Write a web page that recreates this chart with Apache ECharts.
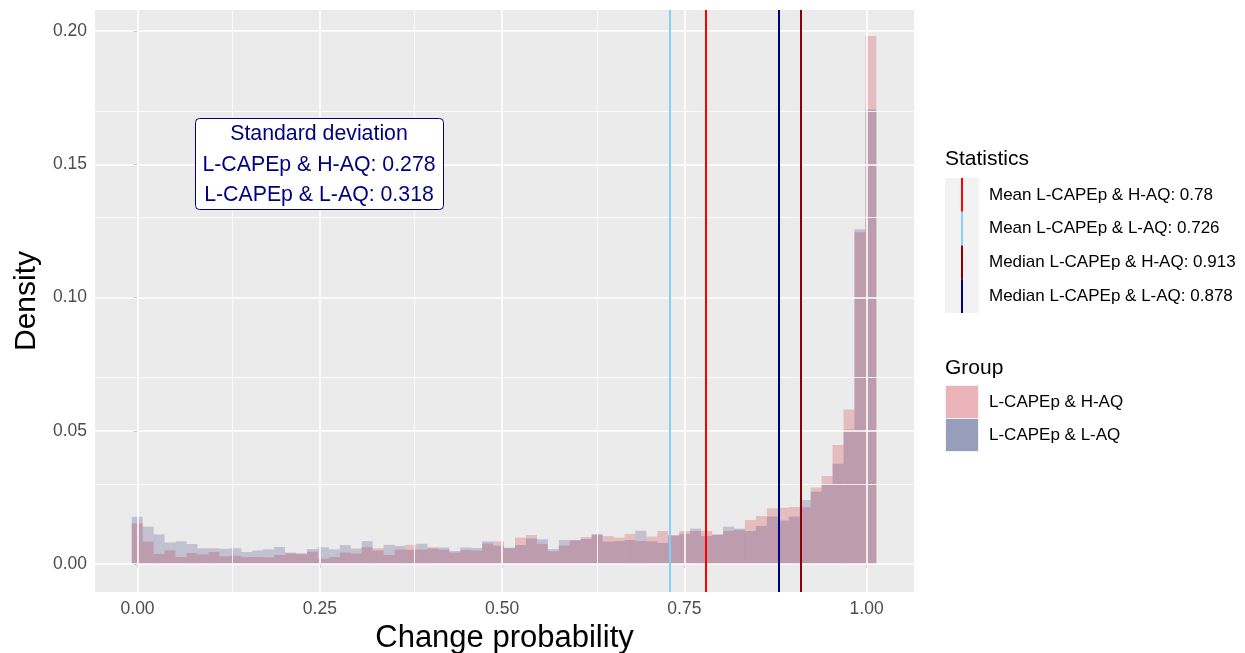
<!DOCTYPE html>
<html>
<head>
<meta charset="utf-8">
<script src="https://cdn.jsdelivr.net/npm/echarts@6/dist/echarts.min.js"></script>
<style>
  html, body { margin: 0; padding: 0; background: #ffffff; }
  #chart { width: 1245px; height: 653px; }
</style>
</head>
<body>
<div id="chart"></div>
<script>
// Histogram bins: left edge of the first bin and the common bin width
const binOrigin = -0.008;
const binWidth = 0.01502;

// Density per bin, L-CAPEp & H-AQ
const densityHighAQ = [
  0.0153, 0.0084, 0.0038, 0.0051, 0.0026, 0.0041, 0.0036, 0.0045, 0.0029, 0.0031,
  0.0026, 0.0026, 0.0025, 0.0034, 0.0039, 0.0041, 0.0046, 0.0020, 0.0026, 0.0043,
  0.0039, 0.0063, 0.0059, 0.0034, 0.0054, 0.0072, 0.0054, 0.0063, 0.0054, 0.0043,
  0.0052, 0.0050, 0.0077, 0.0085, 0.0059, 0.0099, 0.0109, 0.0076, 0.0048, 0.0069,
  0.0090, 0.0101, 0.0112, 0.0105, 0.0099, 0.0113, 0.0086, 0.0103, 0.0124, 0.0108,
  0.0124, 0.0124, 0.0124, 0.0111, 0.0124, 0.0128, 0.0165, 0.0180, 0.0209, 0.0211,
  0.0214, 0.0213, 0.0287, 0.0330, 0.0447, 0.0580, 0.1245, 0.1981
];

// Density per bin, L-CAPEp & L-AQ
const densityLowAQ = [
  0.0177, 0.0140, 0.0111, 0.0081, 0.0085, 0.0075, 0.0059, 0.0059, 0.0057, 0.0059,
  0.0045, 0.0051, 0.0055, 0.0064, 0.0043, 0.0037, 0.0056, 0.0063, 0.0055, 0.0071,
  0.0058, 0.0086, 0.0051, 0.0072, 0.0068, 0.0053, 0.0076, 0.0058, 0.0062, 0.0049,
  0.0062, 0.0060, 0.0085, 0.0069, 0.0061, 0.0071, 0.0096, 0.0093, 0.0056, 0.0090,
  0.0089, 0.0094, 0.0110, 0.0084, 0.0086, 0.0090, 0.0125, 0.0085, 0.0079, 0.0107,
  0.0113, 0.0133, 0.0105, 0.0110, 0.0140, 0.0133, 0.0124, 0.0143, 0.0178, 0.0163,
  0.0178, 0.0240, 0.0271, 0.0300, 0.0376, 0.0505, 0.1256, 0.1706
];

// Axis ticks and labels
const xTicks = [0, 0.25, 0.5, 0.75, 1];
const xTickLabels = ['0.00', '0.25', '0.50', '0.75', '1.00'];
const xMinorTicks = [0.125, 0.375, 0.625, 0.875];
const yTicks = [0, 0.05, 0.1, 0.15, 0.2];
const yTickLabels = ['0.00', '0.05', '0.10', '0.15', '0.20'];
const yMinorTicks = [0.025, 0.075, 0.125, 0.175];

// Summary statistics drawn as vertical reference lines
const statNames = ['Mean L-CAPEp & H-AQ', 'Mean L-CAPEp & L-AQ', 'Median L-CAPEp & H-AQ', 'Median L-CAPEp & L-AQ'];
const statValues = [0.78, 0.726, 0.913, 0.878];
const statColors = ['#FF0000', '#87CEFA', '#8B0000', '#000080'];

// Groups and their standard deviations
const groupNames = ['L-CAPEp & H-AQ', 'L-CAPEp & L-AQ'];
const groupFills = ['rgba(215,40,50,0.24)', 'rgba(25,25,112,0.2)'];
const groupKeyFills = ['#EAB4B8', '#979DBB'];
const sdValues = [0.278, 0.318];

const FONT = '"Liberation Sans", Arial, Helvetica, sans-serif';

const chart = echarts.init(document.getElementById('chart'), null, { renderer: 'canvas' });

function histogramSeries(name, values, fill, z) {
  return {
    type: 'custom',
    name: name,
    z: z,
    silent: true,
    data: values.map((v, i) => [binOrigin + i * binWidth, binOrigin + (i + 1) * binWidth, v]),
    encode: { x: [0, 1], y: 2 },
    renderItem: function (params, api) {
      const top = api.coord([api.value(0), api.value(2)]);
      const base = api.coord([api.value(1), 0]);
      return {
        type: 'rect',
        shape: { x: top[0], y: top[1], width: base[0] - top[0], height: base[1] - top[1] },
        style: { fill: fill }
      };
    }
  };
}

function gridLines(axisKey, values, width) {
  return values.map(v => ({ [axisKey]: v, lineStyle: { color: '#FFFFFF', width: width, type: 'solid' } }));
}

const legendX = 945;
const statKeyTop = 178;
const statKeyH = 33.75;
const groupKeyTop = 385.5;
const groupKeyH = 33;

const graphics = [];

// Standard deviation box
graphics.push({
  type: 'group', left: 195, top: 118, z: 100,
  children: [
    { type: 'rect', z: 100, shape: { x: 0.5, y: 0.5, width: 248, height: 91, r: 4 },
      style: { fill: '#FFFFFF', stroke: '#000080', lineWidth: 1 } },
    { type: 'text', z: 101, x: 124, y: 16, style: { text: 'Standard deviation', fill: '#000080', font: '21.3px ' + FONT, align: 'center', verticalAlign: 'middle' } },
    { type: 'text', z: 101, x: 124, y: 47, style: { text: groupNames[0] + ': ' + sdValues[0], fill: '#000080', font: '21.3px ' + FONT, align: 'center', verticalAlign: 'middle' } },
    { type: 'text', z: 101, x: 124, y: 77, style: { text: groupNames[1] + ': ' + sdValues[1], fill: '#000080', font: '21.3px ' + FONT, align: 'center', verticalAlign: 'middle' } }
  ]
});

// Statistics legend
graphics.push({ type: 'text', x: legendX, y: 159, style: { text: 'Statistics', fill: '#000000', font: '21px ' + FONT, verticalAlign: 'middle' } });
graphics.push({ type: 'rect', shape: { x: legendX, y: statKeyTop, width: 34, height: statKeyH * 4 }, style: { fill: '#F2F2F2' } });
statNames.forEach((n, i) => {
  graphics.push({ type: 'line', shape: { x1: legendX + 17, y1: statKeyTop + i * statKeyH, x2: legendX + 17, y2: statKeyTop + (i + 1) * statKeyH },
    style: { stroke: statColors[i], lineWidth: 2 } });
  graphics.push({ type: 'text', x: 989, y: statKeyTop + (i + 0.5) * statKeyH,
    style: { text: n + ': ' + statValues[i], fill: '#000000', font: '17px ' + FONT, verticalAlign: 'middle' } });
});

// Group legend
graphics.push({ type: 'text', x: legendX, y: 368, style: { text: 'Group', fill: '#000000', font: '21px ' + FONT, verticalAlign: 'middle' } });
groupNames.forEach((n, i) => {
  graphics.push({ type: 'rect', shape: { x: legendX + 0.5, y: groupKeyTop + i * groupKeyH, width: 33, height: groupKeyH },
    style: { fill: groupKeyFills[i], stroke: '#F2F2F2', lineWidth: 1 } });
  graphics.push({ type: 'text', x: 989, y: groupKeyTop + (i + 0.5) * groupKeyH,
    style: { text: n, fill: '#000000', font: '17px ' + FONT, verticalAlign: 'middle' } });
});

const option = {
  animation: false,
  backgroundColor: '#FFFFFF',
  grid: {
    left: 95, right: 331, top: 10, bottom: 61,
    containLabel: false, outerBoundsMode: 'none',
    show: true, backgroundColor: '#EBEBEB', borderWidth: 0
  },
  xAxis: {
    type: 'value', min: -0.0584, max: 1.065,
    name: 'Change probability', nameLocation: 'middle', nameGap: 27,
    nameTextStyle: { color: '#000000', fontSize: 31, fontFamily: FONT },
    axisLine: { show: false },
    splitLine: { show: false },
    axisTick: { show: true, customValues: xTicks, length: 4, lineStyle: { color: '#333333', width: 1 } },
    axisLabel: { customValues: xTicks, formatter: v => xTickLabels[xTicks.indexOf(v)] ?? v.toFixed(2),
      color: '#4D4D4D', fontSize: 17.5, fontFamily: FONT, margin: 8 }
  },
  yAxis: {
    type: 'value', min: -0.0105, max: 0.2079,
    name: 'Density', nameLocation: 'middle', nameGap: 52,
    nameTextStyle: { color: '#000000', fontSize: 30, fontFamily: FONT },
    axisLine: { show: false },
    splitLine: { show: false },
    axisTick: { show: true, customValues: yTicks, length: 4, lineStyle: { color: '#333333', width: 1 } },
    axisLabel: { customValues: yTicks, formatter: v => yTickLabels[yTicks.indexOf(v)] ?? v.toFixed(2),
      color: '#4D4D4D', fontSize: 17.5, fontFamily: FONT, margin: 8 }
  },
  series: [
    {
      type: 'line', data: [], z: 1, silent: true,
      markLine: {
        silent: true, symbol: 'none', label: { show: false }, animation: false,
        data: [].concat(
          gridLines('yAxis', yMinorTicks, 0.8), gridLines('xAxis', xMinorTicks, 0.8),
          gridLines('yAxis', yTicks, 1.6), gridLines('xAxis', xTicks, 1.6))
      }
    },
    histogramSeries(groupNames[0], densityHighAQ, groupFills[0], 2),
    histogramSeries(groupNames[1], densityLowAQ, groupFills[1], 3),
    {
      type: 'line', data: [], z: 5, silent: true,
      markLine: {
        silent: true, symbol: 'none', label: { show: false }, animation: false,
        data: statValues.map((v, i) => ({ xAxis: v, lineStyle: { color: statColors[i], width: 2, type: 'solid' } }))
      }
    }
  ],
  graphic: { elements: graphics }
};

chart.setOption(option);
</script>
</body>
</html>
